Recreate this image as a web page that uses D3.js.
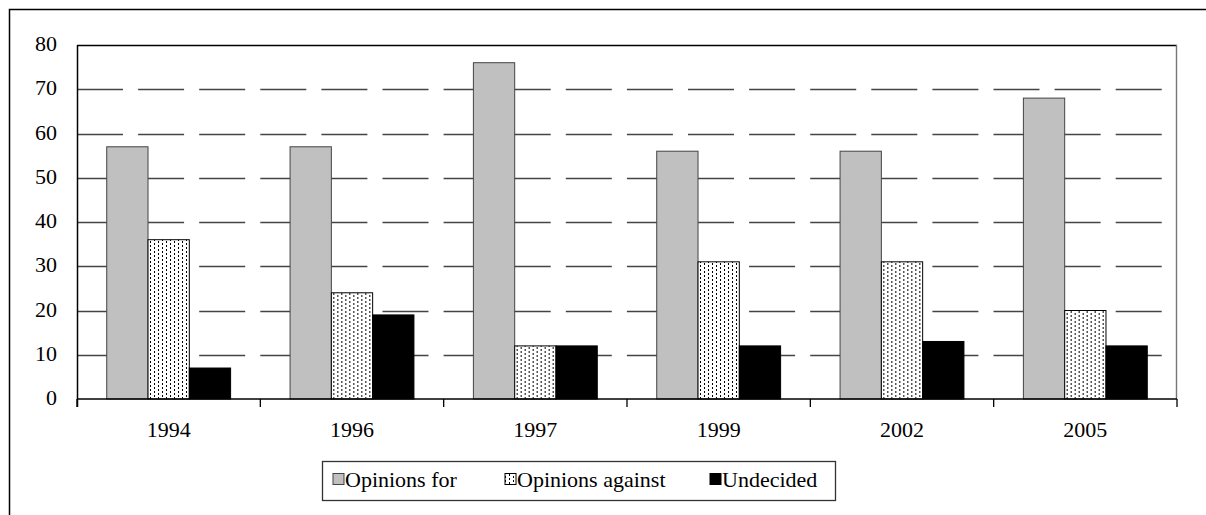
<!DOCTYPE html>
<html>
<head>
<meta charset="utf-8">
<script src="https://cdn.jsdelivr.net/npm/d3@7"></script>
<style>
  body { margin: 0; background: #fff; }
  text { font-family: "Liberation Serif", "Times New Roman", serif; }
</style>
</head>
<body>
<div class="chart"></div>
<script>
// chart data
var years = ["1994", "1996", "1997", "1999", "2002", "2005"];
var seriesNames = ["Opinions for", "Opinions against", "Undecided"];
var opinionsFor = [57, 57, 76, 56, 56, 68];
var opinionsAgainst = [36, 24, 12, 31, 31, 20];
var undecided = [7, 19, 12, 12, 13, 12];
var yTicks = [0, 10, 20, 30, 40, 50, 60, 70, 80];

var svgWidth = 1206;
var svgHeight = 515;

var margin = { top: 45, right: 29, bottom: 116, left: 77 };
var width = svgWidth - margin.left - margin.right;
var height = svgHeight - margin.top - margin.bottom;

var svg = d3.select(".chart")
  .append("svg")
  .attr("width", svgWidth)
  .attr("height", svgHeight);

// dotted pattern for "against" bars
var defs = svg.append("defs");
var pat = defs.append("pattern")
  .attr("id", "dots")
  .attr("patternUnits", "userSpaceOnUse")
  .attr("width", 8)
  .attr("height", 4);
pat.append("rect").attr("width", 8).attr("height", 4).attr("fill", "#fff");
pat.append("rect").attr("x", 1).attr("y", 0).attr("width", 1).attr("height", 2).attr("fill", "#000");
pat.append("rect").attr("x", 5).attr("y", 2).attr("width", 1).attr("height", 2).attr("fill", "#000");

// outer frame
svg.append("path")
  .attr("d", `M9.5,${svgHeight} V9.5 H${svgWidth}`)
  .attr("fill", "none")
  .attr("stroke", "#000")
  .attr("stroke-width", 1.5);

var chartGroup = svg.append("g")
  .attr("transform", `translate(${margin.left}, ${margin.top})`);

var rows = years.map(function (y, i) {
  return { year: y, values: [opinionsFor[i], opinionsAgainst[i], undecided[i]] };
});

var x0 = d3.scaleBand().domain(years).range([0, width]).paddingInner(0).paddingOuter(0);
var x1 = d3.scaleBand().domain(seriesNames).range([0, x0.bandwidth()]).paddingInner(0).paddingOuter(0.72);
var y = d3.scaleLinear().domain([0, 80]).range([height, 0]);

var fills = ["#c0c0c0", "url(#dots)", "#000"];
var strokes = ["#444", "#000", "#000"];

// gridlines
chartGroup.append("g")
  .selectAll("line")
  .data(yTicks.filter(function (t) { return t > 0 && t < 80; }))
  .enter()
  .append("line")
  .attr("x1", 0)
  .attr("x2", width)
  .attr("y1", function (d) { return Math.round(y(d)) + 0.5; })
  .attr("y2", function (d) { return Math.round(y(d)) + 0.5; })
  .attr("stroke", "#444")
  .attr("stroke-width", 1.4)
  .attr("stroke-dasharray", "46,15.1");

// plot border top/right
chartGroup.append("line")
  .attr("x1", 0).attr("x2", width).attr("y1", 0.5).attr("y2", 0.5)
  .attr("stroke", "#000").attr("stroke-width", 1.4);
chartGroup.append("line")
  .attr("x1", width - 0.5).attr("x2", width - 0.5).attr("y1", 0).attr("y2", height)
  .attr("stroke", "#777").attr("stroke-width", 1.4);

// bars
var groups = chartGroup.selectAll(".year")
  .data(rows)
  .enter()
  .append("g")
  .attr("transform", function (d) { return `translate(${x0(d.year)},0)`; });

groups.selectAll("rect")
  .data(function (d) { return d.values.map(function (v, i) { return { key: seriesNames[i], value: v, i: i }; }); })
  .enter()
  .append("rect")
  .attr("x", function (d) { return x1(d.key); })
  .attr("y", function (d) { return y(d.value); })
  .attr("width", x1.bandwidth())
  .attr("height", function (d) { return height - y(d.value); })
  .attr("fill", function (d) { return fills[d.i]; })
  .attr("stroke", function (d) { return strokes[d.i]; })
  .attr("stroke-width", 1);

// x axis
var xAxis = chartGroup.append("g")
  .attr("transform", `translate(0, ${height})`);
xAxis.append("line")
  .attr("x1", 0).attr("x2", width).attr("y1", 0).attr("y2", 0)
  .attr("stroke", "#000").attr("stroke-width", 1.5);
xAxis.selectAll(".tk")
  .data(years.map(function (yr) { return x0(yr); }).concat([width]))
  .enter()
  .append("line")
  .attr("x1", function (d) { return d; })
  .attr("x2", function (d) { return d; })
  .attr("y1", 0).attr("y2", 8)
  .attr("stroke", "#000").attr("stroke-width", 1.3);
xAxis.selectAll("text")
  .data(years)
  .enter()
  .append("text")
  .attr("x", function (d) { return x0(d) + x0.bandwidth() / 2; })
  .attr("y", 38)
  .attr("text-anchor", "middle")
  .attr("font-size", 22)
  .text(function (d) { return d; });

// y axis
chartGroup.append("line")
  .attr("x1", 0.5).attr("x2", 0.5).attr("y1", 0).attr("y2", height + 8)
  .attr("stroke", "#000").attr("stroke-width", 1.5);
chartGroup.append("g")
  .selectAll("text")
  .data(yTicks)
  .enter()
  .append("text")
  .attr("x", -20)
  .attr("y", function (d) { return y(d) + 6; })
  .attr("text-anchor", "end")
  .attr("font-size", 22)
  .text(function (d) { return d; });

// legend
var legend = svg.append("g");
legend.append("rect")
  .attr("x", 322.5).attr("y", 461.5)
  .attr("width", 513).attr("height", 39)
  .attr("fill", "#fff")
  .attr("stroke", "#333").attr("stroke-width", 1.3);

var legendX = [333, 505, 710];
seriesNames.forEach(function (name, i) {
  legend.append("rect")
    .attr("x", legendX[i]).attr("y", 473.5)
    .attr("width", 11).attr("height", 11)
    .attr("fill", fills[i])
    .attr("stroke", strokes[i]).attr("stroke-width", 1);
  legend.append("text")
    .attr("x", legendX[i] + 12)
    .attr("y", 487)
    .attr("font-size", 22)
    .text(name);
});
</script>
</body>
</html>
